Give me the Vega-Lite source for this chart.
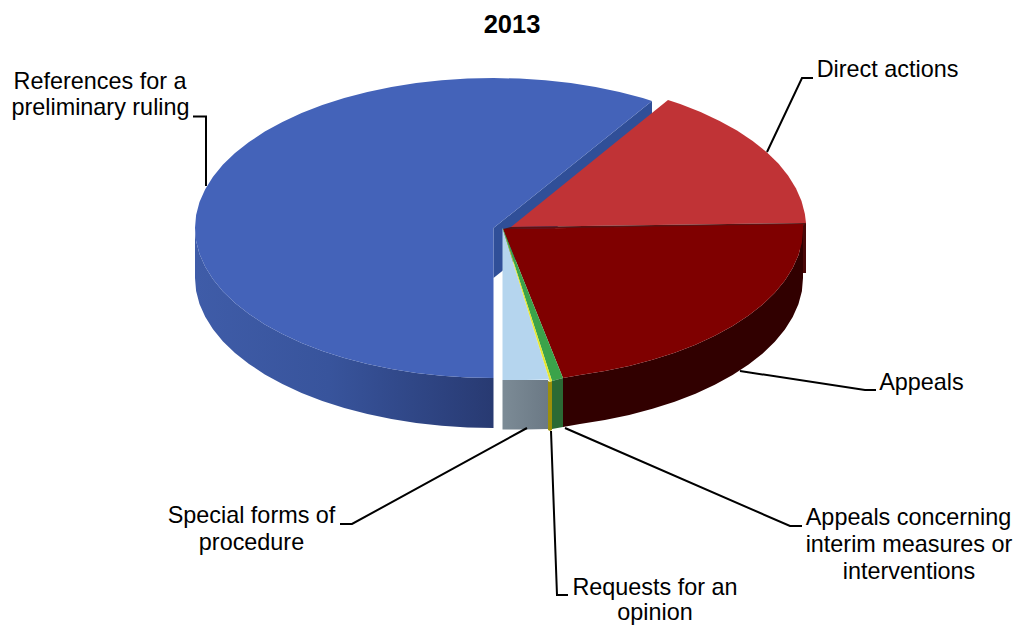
{
"$schema":"https://vega.github.io/schema/vega-lite/v6.json",
"width":1016,"height":625,"padding":0,"autosize":"none",
"background":"white",
"config":{"view":{"stroke":null}},
"title":{"text":"2013","anchor":"middle","frame":"group","offset":0,"dy":38.5,"dx":4,"font":"Liberation Sans","fontSize":25.5,"fontWeight":"bold","color":"#000000"},
"datasets":{
"faces":[
{"face":"ruling cut","i":0,"x":-6.5,"y":0},{"face":"ruling cut","i":1,"x":152,"y":127},{"face":"ruling cut","i":2,"x":152,"y":77},{"face":"ruling cut","i":3,"x":-6.5,"y":-50},
{"face":"ruling top","i":0,"x":-6.5,"y":0},{"face":"ruling top","i":1,"x":152,"y":127},{"face":"ruling top","i":2,"x":142.75,"y":129.9},{"face":"ruling top","i":3,"x":119.6,"y":135.9},{"face":"ruling top","i":4,"x":95.6,"y":141},{"face":"ruling top","i":5,"x":70.8,"y":144.9},{"face":"ruling top","i":6,"x":45.3,"y":147.7},{"face":"ruling top","i":7,"x":19.5,"y":149.4},{"face":"ruling top","i":8,"x":-6.5,"y":150},{"face":"ruling top","i":9,"x":-32.5,"y":149.4},{"face":"ruling top","i":10,"x":-58.3,"y":147.7},{"face":"ruling top","i":11,"x":-83.8,"y":144.9},{"face":"ruling top","i":12,"x":-108.6,"y":141},{"face":"ruling top","i":13,"x":-132.6,"y":135.9},{"face":"ruling top","i":14,"x":-155.75,"y":129.9},{"face":"ruling top","i":15,"x":-177.7,"y":122.9},{"face":"ruling top","i":16,"x":-198.4,"y":114.9},{"face":"ruling top","i":17,"x":-217.6,"y":106.1},{"face":"ruling top","i":18,"x":-235.2,"y":96.4},{"face":"ruling top","i":19,"x":-251,"y":86},{"face":"ruling top","i":20,"x":-265,"y":75},{"face":"ruling top","i":21,"x":-277,"y":63.4},{"face":"ruling top","i":22,"x":-287,"y":51.3},{"face":"ruling top","i":23,"x":-294.8,"y":38.8},{"face":"ruling top","i":24,"x":-300.5,"y":26},{"face":"ruling top","i":25,"x":-303.9,"y":13.1},{"face":"ruling top","i":26,"x":-305,"y":0},{"face":"ruling top","i":27,"x":-303.9,"y":-13.1},{"face":"ruling top","i":28,"x":-300.5,"y":-26},{"face":"ruling top","i":29,"x":-294.8,"y":-38.8},{"face":"ruling top","i":30,"x":-287,"y":-51.3},{"face":"ruling top","i":31,"x":-277,"y":-63.4},{"face":"ruling top","i":32,"x":-265,"y":-75},{"face":"ruling top","i":33,"x":-251,"y":-86},{"face":"ruling top","i":34,"x":-235.2,"y":-96.4},{"face":"ruling top","i":35,"x":-217.6,"y":-106.1},{"face":"ruling top","i":36,"x":-198.4,"y":-114.9},{"face":"ruling top","i":37,"x":-177.7,"y":-122.9},{"face":"ruling top","i":38,"x":-155.75,"y":-129.9},{"face":"ruling top","i":39,"x":-132.6,"y":-135.9},{"face":"ruling top","i":40,"x":-108.6,"y":-141},{"face":"ruling top","i":41,"x":-83.8,"y":-144.9},{"face":"ruling top","i":42,"x":-58.3,"y":-147.7},{"face":"ruling top","i":43,"x":-32.5,"y":-149.4},{"face":"ruling top","i":44,"x":-6.5,"y":-150},
{"face":"direct side","i":0,"x":306,"y":5},{"face":"direct side","i":1,"x":306,"y":-45},{"face":"direct side","i":2,"x":300,"y":-45},{"face":"direct side","i":3,"x":300,"y":4},
{"face":"direct top","i":0,"x":11,"y":1},{"face":"direct top","i":1,"x":168,"y":128},{"face":"direct top","i":2,"x":180.2,"y":123.9},{"face":"direct top","i":3,"x":200.6,"y":115.9},{"face":"direct top","i":4,"x":219.6,"y":107.1},{"face":"direct top","i":5,"x":237,"y":97.4},{"face":"direct top","i":6,"x":252.7,"y":87},{"face":"direct top","i":7,"x":266.5,"y":76},{"face":"direct top","i":8,"x":278.4,"y":64.4},{"face":"direct top","i":9,"x":288.2,"y":52.3},{"face":"direct top","i":10,"x":295.9,"y":39.8},{"face":"direct top","i":11,"x":301.5,"y":27},{"face":"direct top","i":12,"x":304.9,"y":14.1},{"face":"direct top","i":13,"x":306,"y":5},
{"face":"direct seam","i":0,"x":11,"y":1},{"face":"direct seam","i":1,"x":306,"y":5},{"face":"direct seam","i":2,"x":303,"y":2},{"face":"direct seam","i":3,"x":3,"y":-1},
{"face":"appeals side","i":0,"x":303,"y":-1},{"face":"appeals side","i":1,"x":301.9,"y":-14.2},{"face":"appeals side","i":2,"x":298.4,"y":-27.2},{"face":"appeals side","i":3,"x":292.7,"y":-40.1},{"face":"appeals side","i":4,"x":284.9,"y":-52.6},{"face":"appeals side","i":5,"x":274.8,"y":-64.8},{"face":"appeals side","i":6,"x":262.7,"y":-76.5},{"face":"appeals side","i":7,"x":248.6,"y":-87.6},{"face":"appeals side","i":8,"x":232.6,"y":-98.1},{"face":"appeals side","i":9,"x":214.8,"y":-107.8},{"face":"appeals side","i":10,"x":195.5,"y":-116.7},{"face":"appeals side","i":11,"x":174.7,"y":-124.7},{"face":"appeals side","i":12,"x":152.5,"y":-131.8},{"face":"appeals side","i":13,"x":129.2,"y":-137.9},{"face":"appeals side","i":14,"x":104.9,"y":-142.9},{"face":"appeals side","i":15,"x":79.9,"y":-146.9},{"face":"appeals side","i":16,"x":63,"y":-150},{"face":"appeals side","i":17,"x":63,"y":-199},{"face":"appeals side","i":18,"x":79.9,"y":-195.9},{"face":"appeals side","i":19,"x":104.9,"y":-191.9},{"face":"appeals side","i":20,"x":129.2,"y":-186.9},{"face":"appeals side","i":21,"x":152.5,"y":-180.8},{"face":"appeals side","i":22,"x":174.7,"y":-173.7},{"face":"appeals side","i":23,"x":195.5,"y":-165.7},{"face":"appeals side","i":24,"x":214.8,"y":-156.8},{"face":"appeals side","i":25,"x":232.6,"y":-147.1},{"face":"appeals side","i":26,"x":248.6,"y":-136.6},{"face":"appeals side","i":27,"x":262.7,"y":-125.5},{"face":"appeals side","i":28,"x":274.8,"y":-113.8},{"face":"appeals side","i":29,"x":284.9,"y":-101.6},{"face":"appeals side","i":30,"x":292.7,"y":-89.1},{"face":"appeals side","i":31,"x":298.4,"y":-76.2},{"face":"appeals side","i":32,"x":301.9,"y":-63.2},{"face":"appeals side","i":33,"x":303,"y":-50},
{"face":"appeals top","i":0,"x":3,"y":-1},{"face":"appeals top","i":1,"x":303,"y":4},{"face":"appeals top","i":2,"x":303,"y":-1},{"face":"appeals top","i":3,"x":301.9,"y":-14.2},{"face":"appeals top","i":4,"x":298.4,"y":-27.2},{"face":"appeals top","i":5,"x":292.7,"y":-40.1},{"face":"appeals top","i":6,"x":284.9,"y":-52.6},{"face":"appeals top","i":7,"x":274.8,"y":-64.8},{"face":"appeals top","i":8,"x":262.7,"y":-76.5},{"face":"appeals top","i":9,"x":248.6,"y":-87.6},{"face":"appeals top","i":10,"x":232.6,"y":-98.1},{"face":"appeals top","i":11,"x":214.8,"y":-107.8},{"face":"appeals top","i":12,"x":195.5,"y":-116.7},{"face":"appeals top","i":13,"x":174.7,"y":-124.7},{"face":"appeals top","i":14,"x":152.5,"y":-131.8},{"face":"appeals top","i":15,"x":129.2,"y":-137.9},{"face":"appeals top","i":16,"x":104.9,"y":-142.9},{"face":"appeals top","i":17,"x":79.9,"y":-146.9},{"face":"appeals top","i":18,"x":63,"y":-150},
{"face":"special top","i":0,"x":2.5,"y":0},{"face":"special top","i":1,"x":2.5,"y":-152},{"face":"special top","i":2,"x":25,"y":-152},{"face":"special top","i":3,"x":48,"y":-151.5},{"face":"special top","i":4,"x":50,"y":-154},
{"face":"interim top","i":0,"x":3,"y":-1},{"face":"interim top","i":1,"x":63,"y":-150},{"face":"interim top","i":2,"x":52,"y":-153},{"face":"interim top","i":3,"x":2.5,"y":0},
{"face":"opinion top","i":0,"x":2.5,"y":0},{"face":"opinion top","i":1,"x":50,"y":-154},{"face":"opinion top","i":2,"x":52,"y":-153},{"face":"opinion top","i":3,"x":3,"y":-1},
{"face":"opinion side","i":0,"x":48,"y":-153},{"face":"opinion side","i":1,"x":50,"y":-154},{"face":"opinion side","i":2,"x":52,"y":-153},{"face":"opinion side","i":3,"x":52,"y":-202},{"face":"opinion side","i":4,"x":50,"y":-203},{"face":"opinion side","i":5,"x":48,"y":-202},
{"face":"interim side","i":0,"x":52,"y":-153},{"face":"interim side","i":1,"x":63,"y":-150},{"face":"interim side","i":2,"x":63,"y":-199},{"face":"interim side","i":3,"x":52,"y":-201}
],
"rulingSide":[
{"i":0,"x":-305,"y":0},{"i":1,"x":-303.9,"y":-13.1},{"i":2,"x":-300.5,"y":-26},{"i":3,"x":-294.8,"y":-38.8},{"i":4,"x":-287,"y":-51.3},{"i":5,"x":-277,"y":-63.4},{"i":6,"x":-265,"y":-75},{"i":7,"x":-251,"y":-86},{"i":8,"x":-235.2,"y":-96.4},{"i":9,"x":-217.6,"y":-106.1},{"i":10,"x":-198.4,"y":-114.9},{"i":11,"x":-177.7,"y":-122.9},{"i":12,"x":-155.75,"y":-129.9},{"i":13,"x":-132.6,"y":-135.9},{"i":14,"x":-108.6,"y":-141},{"i":15,"x":-83.8,"y":-144.9},{"i":16,"x":-58.3,"y":-147.7},{"i":17,"x":-32.5,"y":-149.4},{"i":18,"x":-6.5,"y":-150},
{"i":19,"x":-6.5,"y":-200},{"i":20,"x":-32.5,"y":-199.4},{"i":21,"x":-58.3,"y":-197.7},{"i":22,"x":-83.8,"y":-194.9},{"i":23,"x":-108.6,"y":-191},{"i":24,"x":-132.6,"y":-185.9},{"i":25,"x":-155.75,"y":-179.9},{"i":26,"x":-177.7,"y":-172.9},{"i":27,"x":-198.4,"y":-164.9},{"i":28,"x":-217.6,"y":-156.1},{"i":29,"x":-235.2,"y":-146.4},{"i":30,"x":-251,"y":-136},{"i":31,"x":-265,"y":-125},{"i":32,"x":-277,"y":-113.4},{"i":33,"x":-287,"y":-101.3},{"i":34,"x":-294.8,"y":-88.8},{"i":35,"x":-300.5,"y":-76},{"i":36,"x":-303.9,"y":-63.1},{"i":37,"x":-305,"y":-50}
],
"specialSide":[
{"i":0,"x":2.5,"y":-152},{"i":1,"x":25,"y":-152},{"i":2,"x":48,"y":-152},{"i":3,"x":48,"y":-201},{"i":4,"x":25,"y":-201.5},{"i":5,"x":2.5,"y":-201.5}
],
"leaders":[
{"label":"Direct actions","i":0,"x":267,"y":76},{"label":"Direct actions","i":1,"x":302,"y":150},{"label":"Direct actions","i":2,"x":313,"y":150},
{"label":"References","i":0,"x":-294,"y":42},{"label":"References","i":1,"x":-294,"y":111.5},{"label":"References","i":2,"x":-307,"y":111.5},
{"label":"Appeals","i":0,"x":240,"y":-143},{"label":"Appeals","i":1,"x":365,"y":-162},{"label":"Appeals","i":2,"x":376,"y":-162},
{"label":"Interim","i":0,"x":65,"y":-200},{"label":"Interim","i":1,"x":290,"y":-298},{"label":"Interim","i":2,"x":302,"y":-298},
{"label":"Opinion","i":0,"x":51,"y":-203},{"label":"Opinion","i":1,"x":57,"y":-367},{"label":"Opinion","i":2,"x":68,"y":-367},
{"label":"Special","i":0,"x":27,"y":-200},{"label":"Special","i":1,"x":-148,"y":-296},{"label":"Special","i":2,"x":-160,"y":-296}
],
"labels":[
{"text":"References for a","x":-400,"y":145.7},
{"text":"preliminary ruling","x":-399.5,"y":120},
{"text":"Direct actions","x":387.5,"y":157.7},
{"text":"Appeals","x":421.5,"y":-155},
{"text":"Appeals concerning","x":408.5,"y":-290},
{"text":"interim measures or","x":409,"y":-317},
{"text":"interventions","x":409,"y":-344},
{"text":"Requests for an","x":155,"y":-360},
{"text":"opinion","x":155,"y":-385},
{"text":"Special forms of","x":-248.5,"y":-288},
{"text":"procedure","x":-248.5,"y":-315}
]
},
"encoding":{
"x":{"field":"x","type":"quantitative","axis":null,"scale":{"domain":[-500,516],"nice":false,"zero":false}},
"y":{"field":"y","type":"quantitative","axis":null,"scale":{"domain":[-397,228],"nice":false,"zero":false}}
},
"layer":[
{"data":{"name":"rulingSide"},
 "mark":{"type":"line","filled":true,"strokeWidth":0,"fill":{"gradient":"linear","x1":0,"y1":0,"x2":1,"y2":0,"stops":[{"offset":0,"color":"#3f5ca8"},{"offset":0.45,"color":"#38549c"},{"offset":1,"color":"#283a72"}]}},
 "encoding":{"order":{"field":"i","type":"quantitative"}}},
{"data":{"name":"specialSide"},
 "mark":{"type":"line","filled":true,"strokeWidth":0,"fill":{"gradient":"linear","x1":0,"y1":0,"x2":1,"y2":0,"stops":[{"offset":0,"color":"#7c8b96"},{"offset":1,"color":"#6b7985"}]}},
 "encoding":{"order":{"field":"i","type":"quantitative"}}},
{"data":{"name":"faces"},
 "mark":{"type":"line","filled":true,"strokeWidth":0},
 "encoding":{
  "color":{"field":"face","type":"nominal","legend":null,"scale":{
   "domain":["ruling cut","ruling top","direct side","direct top","direct seam","appeals side","appeals top","special top","interim top","opinion top","opinion side","interim side"],
   "range":["#304f98","#4463b9","#4a0808","#c03336","#5c1212","#310000","#7f0000","#b5d5ee","#3ba34a","#e6e62c","#9c8f0a","#2b6a34"]}},
  "order":{"field":"i","type":"quantitative"}}},
{"data":{"name":"leaders"},
 "mark":{"type":"line","color":"#000000","strokeWidth":2},
 "encoding":{"detail":{"field":"label"},"order":{"field":"i","type":"quantitative"}}},
{"data":{"name":"labels"},
 "mark":{"type":"text","font":"Liberation Sans","fontSize":23.4,"align":"center","baseline":"middle","color":"#000000"},
 "encoding":{"text":{"field":"text","type":"nominal"}}}
]
}
